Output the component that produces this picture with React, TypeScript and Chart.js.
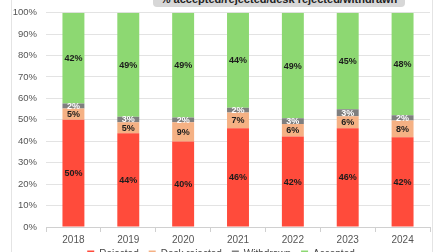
import React, { useEffect, useRef } from "react";
import { Chart, registerables } from "chart.js";

Chart.register(...registerables);

const years = ["2018", "2019", "2020", "2021", "2022", "2023", "2024"];
const rejected = [50.1, 43.7, 39.9, 46.1, 42.2, 46.1, 41.9];
const deskRejected = [5.2, 5.2, 9.0, 7.3, 5.9, 5.6, 7.8];
const withdrawn = [2.3, 2.6, 2.2, 2.2, 2.6, 3.2, 2.4];
const accepted = [42.4, 48.5, 48.9, 44.4, 49.3, 45.1, 47.9];
const yTicks = [0, 10, 20, 30, 40, 50, 60, 70, 80, 90, 100];
const titleText = "% accepted/rejected/desk rejected/withdrawn";

const FONT = "'Liberation Sans', Arial, Helvetica, sans-serif";

const labelPlugin = {
  id: "segLabels",
  afterDatasetsDraw(chart: any) {
    const ctx = chart.ctx;
    ctx.save();
    ctx.font = `bold 9px ${FONT}`;
    ctx.textAlign = "center";
    ctx.textBaseline = "middle";
    chart.data.datasets.forEach((ds: any, i: number) => {
      const meta = chart.getDatasetMeta(i);
      meta.data.forEach((el: any, j: number) => {
        const v = ds.data[j];
        const y = (el.y + el.base) / 2;
        ctx.fillStyle = ds.labelColor;
        ctx.fillText(Math.round(v) + "%", el.x, y + 0.5);
      });
    });
    ctx.restore();
  },
};

const legendShift = {
  id: "legendShift",
  afterLayout(chart: any) {
    if (chart.legend) {
      chart.legend.top -= 9;
      chart.legend.bottom -= 9;
    }
  },
};

export default function App() {
  const ref = useRef<HTMLCanvasElement>(null);
  useEffect(() => {
    if (!ref.current) return;
    const chart = new Chart(ref.current, {
      type: "bar",
      data: {
        labels: years,
        datasets: [
          { label: "Rejected", data: rejected, backgroundColor: "#FF4B3B", labelColor: "#1c1c1c" } as any,
          { label: "Desk rejected", data: deskRejected, backgroundColor: "#F5B184", labelColor: "#1c1c1c" } as any,
          { label: "Withdrawn", data: withdrawn, backgroundColor: "#7F7F7F", labelColor: "#ffffff" } as any,
          { label: "Accepted", data: accepted, backgroundColor: "#8DD872", labelColor: "#1c1c1c" } as any,
        ],
      },
      options: {
        animation: false,
        responsive: false,
        maintainAspectRatio: false,
        layout: { padding: { top: 9, left: 0, right: 2, bottom: 0 } },
        datasets: { bar: { barPercentage: 0.4, categoryPercentage: 1 } },
        scales: {
          x: {
            stacked: true,
            grid: { display: true, drawOnChartArea: false, drawTicks: true, tickLength: 5, color: "#d0d0d0" },
            border: { display: true, color: "#d0d0d0" },
            ticks: { color: "#555", font: { family: FONT, size: 10 }, padding: 2 },
          },
          y: {
            stacked: true,
            min: 0,
            max: 100,
            afterBuildTicks: (axis: any) => {
              axis.ticks = yTicks.map((v) => ({ value: v }));
            },
            afterFit: (axis: any) => {
              axis.width = 34;
            },
            grid: { color: "#e3e3e3", drawTicks: false },
            border: { display: false },
            ticks: {
              color: "#555",
              font: { family: FONT, size: 9.5 },
              padding: 9,
              callback: (v: any) => v + "%",
            },
          },
        },
        plugins: {
          legend: {
            position: "bottom",
            labels: { boxWidth: 7, boxHeight: 7, padding: 10, color: "#444", font: { family: FONT, size: 10 } },
          },
          tooltip: { enabled: false },
          title: { display: false },
        },
      },
      plugins: [labelPlugin, legendShift],
    });
    return () => chart.destroy();
  }, []);

  return (
    <div style={{ position: "absolute", left: 0, top: 0, width: 447, height: 252, overflow: "hidden", background: "#fff" }}>
      <div
        style={{
          position: "absolute",
          left: 11,
          top: -20,
          width: 420,
          height: 300,
          border: "1px solid #e4e4e4",
          borderRadius: 6,
        }}
      />
      <canvas
        ref={ref}
        width={420}
        height={280}
        style={{ position: "absolute", left: 12, top: -2, width: 420, height: 280 }}
      />
      <div
        style={{
          position: "absolute",
          left: 153,
          top: -12,
          width: 252,
          height: 19,
          boxSizing: "border-box",
          paddingTop: 5,
          lineHeight: "14px",
          background: "#d7d7d7",
          borderRadius: 4,
          textAlign: "center",
          font: `bold 11px ${FONT}`,
          color: "#222",
          whiteSpace: "nowrap",
        }}
      >
        {titleText}
      </div>
    </div>
  );
}
